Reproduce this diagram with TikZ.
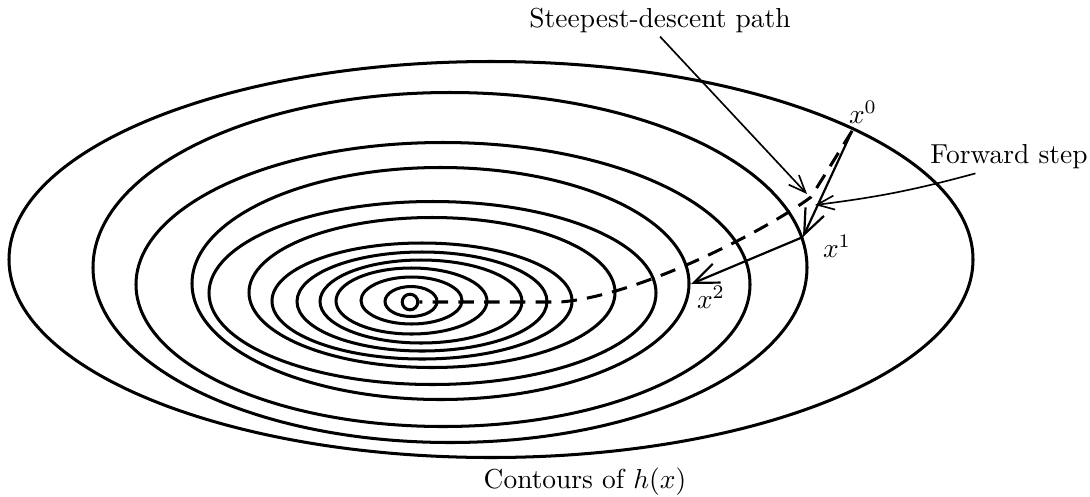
\documentclass[tikz,border=0pt]{standalone}
\usetikzlibrary{arrows.meta,positioning}
\begin{document}
\begin{tikzpicture}[x=0.0128cm,y=-0.0128cm,every node/.style={font=\normalsize},
    contour/.style={line width=1.1pt},
    steparrow/.style={line width=0.8pt,-{Straight Barb[length=3.2mm,width=2.6mm,line width=0.8pt]}},
    pointer/.style={line width=0.6pt,-{Straight Barb[length=2.2mm,width=1.8mm,line width=0.6pt]}}]
  \useasboundingbox (0,0) rectangle (1090,496);
  % contours of h(x), inner to outer
  \foreach \cx/\cy/\a/\b in {
      411/301.5/26/15, 411.5/300.5/50.5/23.5, 411.5/301/75.5/33,
      421/301.5/101/41.5, 422/301.5/125/49.5, 422/301/150/58,
      432/292.5/183/75, 432.5/293/223.5/91.5, 440.5/283.5/248.5/116,
      443/284.5/307/142, 450/267.5/357/175, 491/259.5/482/198}
    \draw[contour] (\cx,\cy) ellipse [x radius=\a, y radius=\b];
  \node[draw,circle,contour,minimum size=2mm,inner sep=0pt] (min) at (410,302) {};
  % iterates
  \coordinate (x0) at (852,131);
  \coordinate (x1) at (803,237);
  \coordinate (x2) at (691,284);
  \coordinate (bend) at (811,197);
  \coordinate (flat) at (560,302);
  \draw[contour,dash pattern=on 2mm off 1.3mm] (x0) -- (bend)
    .. controls (770,228) and (640,296) .. (flat) -- (min.east);
  \draw[steparrow] (x0) -- (x1);
  \draw[steparrow] (x1) -- (x2);
  \node (lx0) at (863,112) {$x^0$};
  \node (lx1) at (837,246) {$x^1$};
  \node (lx2) at (711,297) {$x^2$};
  % labels
  \node (sdlabel) at (660,20) {Steepest-descent path};
  \node (fwlabel) at (1009,157) {Forward step};
  \node (contlabel) at (585,482) {Contours of $h(x)$};
  \coordinate (sdtip) at (807,194);
  \coordinate (fwtip) at (815,205);
  \draw[pointer] ([xshift=0pt,yshift=2pt]sdlabel.south) -- (sdtip);
  \draw[pointer] ([xshift=-0.43cm,yshift=2pt]fwlabel.south) to[bend left=4] (fwtip);
\end{tikzpicture}
\end{document}
